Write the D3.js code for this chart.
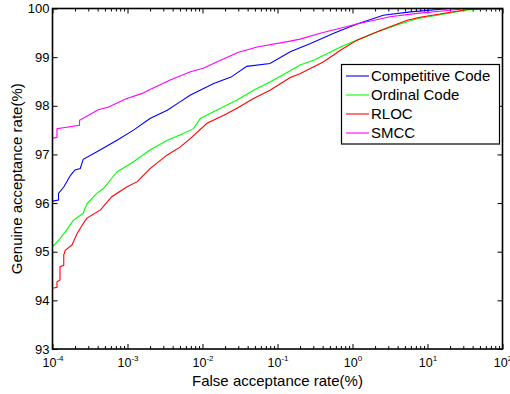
<!DOCTYPE html>
<html>
<head>
<meta charset="utf-8">
<script src="https://cdn.jsdelivr.net/npm/d3@7"></script>
<style>
  body { margin: 0; background: #fff; }
  svg { display: block; font-family: Arial, "Liberation Sans", sans-serif; }
</style>
</head>
<body>
<svg id="chart" width="510" height="394"></svg>
<script>
// FAR given as log10 of the percentage, GAR in percent
const seriesNames = ["Competitive Code", "Ordinal Code", "RLOC", "SMCC"];
const seriesColors = ["#0000ff", "#00ff00", "#ff0000", "#ff00ff"];

const competitive = [
  [-4.00, 96.04], [-3.92, 96.06], [-3.92, 96.20], [-3.85, 96.33], [-3.76, 96.57],
  [-3.70, 96.68], [-3.63, 96.71], [-3.59, 96.90], [-3.39, 97.07], [-3.14, 97.29],
  [-2.92, 97.50], [-2.70, 97.74], [-2.47, 97.91], [-2.30, 98.08], [-2.16, 98.22],
  [-1.85, 98.46], [-1.62, 98.59], [-1.41, 98.81], [-1.10, 98.87], [-0.83, 99.11],
  [-0.56, 99.28], [-0.25, 99.49], [0.06, 99.68], [0.41, 99.86], [0.77, 99.93],
  [1.30, 100], [2.00, 100]
];
const ordinal = [
  [-4.00, 95.10], [-3.90, 95.27], [-3.81, 95.45], [-3.72, 95.65], [-3.59, 95.79],
  [-3.54, 95.99], [-3.41, 96.20], [-3.32, 96.30], [-3.21, 96.51], [-3.14, 96.64],
  [-2.92, 96.85], [-2.70, 97.09], [-2.47, 97.29], [-2.30, 97.40], [-2.12, 97.53],
  [-2.03, 97.74], [-1.76, 97.95], [-1.54, 98.12], [-1.32, 98.32], [-1.10, 98.49],
  [-0.83, 98.72], [-0.70, 98.84], [-0.51, 98.94], [-0.16, 99.21], [0.06, 99.35],
  [0.28, 99.49], [0.59, 99.66], [0.86, 99.79], [1.53, 99.97], [2.00, 100]
];
const rloc = [
  [-4.00, 94.25], [-3.94, 94.27], [-3.94, 94.38], [-3.90, 94.42], [-3.90, 94.69],
  [-3.85, 94.72], [-3.85, 94.93], [-3.83, 95.03], [-3.74, 95.14], [-3.67, 95.38],
  [-3.59, 95.58], [-3.54, 95.69], [-3.36, 95.86], [-3.21, 96.13], [-3.01, 96.33],
  [-2.87, 96.44], [-2.70, 96.71], [-2.47, 96.99], [-2.30, 97.15], [-2.16, 97.33],
  [-1.94, 97.64], [-1.71, 97.81], [-1.54, 97.95], [-1.32, 98.15], [-1.10, 98.32],
  [-0.83, 98.58], [-0.70, 98.66], [-0.61, 98.73], [-0.39, 98.90], [-0.16, 99.14],
  [0.06, 99.35], [0.37, 99.55], [0.73, 99.76], [0.90, 99.82], [1.53, 99.98], [2.00, 100]
];
const smcc = [
  [-4.00, 97.33], [-3.94, 97.35], [-3.94, 97.53], [-3.64, 97.60], [-3.64, 97.70],
  [-3.39, 97.92], [-3.26, 97.97], [-3.01, 98.15], [-2.81, 98.25], [-2.72, 98.32],
  [-2.43, 98.53], [-2.16, 98.70], [-1.99, 98.77], [-1.81, 98.90], [-1.52, 99.10],
  [-1.27, 99.21], [-0.83, 99.33], [-0.70, 99.37], [-0.43, 99.49], [0.06, 99.68],
  [0.50, 99.83], [0.86, 99.90], [1.20, 99.95], [1.53, 100], [2.00, 100]
];
const allSeries = [competitive, ordinal, rloc, smcc];

const xDecades = [-4, -3, -2, -1, 0, 1, 2];
const yTicks = [93, 94, 95, 96, 97, 98, 99, 100];

const svg = d3.select("#chart");
const m = { left: 52.5, right: 502.5, top: 8.5, bottom: 349 };

const x = d3.scaleLog().domain([1e-4, 1e2]).range([m.left, m.right]);
const y = d3.scaleLinear().domain([93, 100]).range([m.bottom, m.top]);

// minor ticks: 2..9 in every decade
let minor = [];
xDecades.slice(0, -1).forEach(d => {
  for (let k = 2; k <= 9; k++) minor.push(k * 10 ** d);
});
const major = xDecades.map(d => 10 ** d);

function styleAxis(g) {
  g.select(".domain").remove();
  g.selectAll("line").attr("stroke", "#000").attr("stroke-width", 1);
}

// bottom
svg.append("g").attr("transform", `translate(0,${m.bottom})`)
  .call(d3.axisBottom(x).tickValues(minor).tickSize(-3).tickFormat(""))
  .call(styleAxis);
const bottomMajor = svg.append("g").attr("transform", `translate(0,${m.bottom})`)
  .call(d3.axisBottom(x).tickValues(major).tickSize(-5).tickPadding(9).tickFormat(""))
  .call(styleAxis);
bottomMajor.selectAll(".tick text").each(function(d) {
  const t = d3.select(this)
    .attr("fill", "#000").attr("font-size", 12.5).attr("font-family", "Arial, 'Liberation Sans', sans-serif")
    .attr("text-anchor", "middle").attr("dy", "0.71em");
  t.text("");
  t.append("tspan").text("10");
  t.append("tspan").text(Math.round(Math.log10(d))).attr("font-size", 8).attr("dy", -6);
});

// top
svg.append("g").attr("transform", `translate(0,${m.top})`)
  .call(d3.axisTop(x).tickValues(minor).tickSize(-3).tickFormat(""))
  .call(styleAxis);
svg.append("g").attr("transform", `translate(0,${m.top})`)
  .call(d3.axisTop(x).tickValues(major).tickSize(-5).tickFormat(""))
  .call(styleAxis);

// left
svg.append("g").attr("transform", `translate(${m.left},0)`)
  .call(d3.axisLeft(y).tickValues(yTicks).tickSize(-5).tickPadding(3).tickFormat(d3.format("d")))
  .call(styleAxis)
  .call(g => g.selectAll("text").attr("fill", "#000").attr("font-size", 13)
    .attr("font-family", "Arial, 'Liberation Sans', sans-serif"));

// right
svg.append("g").attr("transform", `translate(${m.right},0)`)
  .call(d3.axisRight(y).tickValues(yTicks).tickSize(-5).tickFormat(""))
  .call(styleAxis);

// curves
const line = d3.line().x(d => x(10 ** d[0])).y(d => y(d[1]));
const plot = svg.append("g");
allSeries.forEach((s, i) => {
  plot.append("path").datum(s)
    .attr("fill", "none").attr("stroke", seriesColors[i]).attr("stroke-width", 1.1)
    .attr("d", line);
});

// frame
svg.append("rect")
  .attr("x", m.left).attr("y", m.top)
  .attr("width", m.right - m.left).attr("height", m.bottom - m.top)
  .attr("fill", "none").attr("stroke", "#000").attr("stroke-width", 1.6);

// axis titles
svg.append("text").attr("x", (m.left + m.right) / 2).attr("y", 386)
  .attr("text-anchor", "middle").attr("font-size", 15).text("False acceptance rate(%)");
svg.append("text")
  .attr("transform", `translate(22,${(m.top + m.bottom) / 2}) rotate(-90)`)
  .attr("text-anchor", "middle").attr("font-size", 15).text("Genuine acceptance rate(%)");

// legend
const lg = svg.append("g");
lg.append("rect").attr("x", 341.5).attr("y", 64.5).attr("width", 158).attr("height", 79.5)
  .attr("fill", "#fff").attr("stroke", "#000").attr("stroke-width", 1.2);
seriesNames.forEach((name, i) => {
  const yy = 76 + i * 19;
  lg.append("line").attr("x1", 346).attr("x2", 369).attr("y1", yy).attr("y2", yy)
    .attr("stroke", seriesColors[i]).attr("stroke-width", 1.1);
  lg.append("text").attr("x", 371).attr("y", yy + 5).attr("font-size", 15).text(name);
});
</script>
</body>
</html>
